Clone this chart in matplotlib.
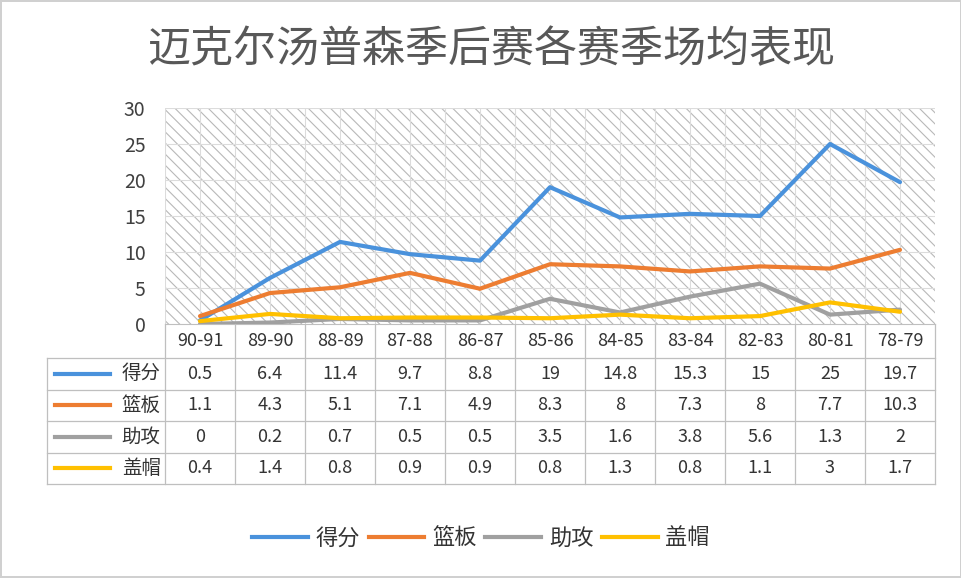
import matplotlib.pyplot as plt
from matplotlib.patches import Rectangle
from matplotlib.lines import Line2D

plt.rcParams['font.family'] = ['Noto Sans CJK SC', 'DejaVu Sans']
plt.rcParams['hatch.linewidth'] = 0.8
plt.rcParams['hatch.color'] = '#b8b8b8'

seasons = ['90-91', '89-90', '88-89', '87-88', '86-87', '85-86',
           '84-85', '83-84', '82-83', '80-81', '78-79']
points = [0.5, 6.4, 11.4, 9.7, 8.8, 19, 14.8, 15.3, 15, 25, 19.7]
rebounds = [1.1, 4.3, 5.1, 7.1, 4.9, 8.3, 8, 7.3, 8, 7.7, 10.3]
assists = [0, 0.2, 0.7, 0.5, 0.5, 3.5, 1.6, 3.8, 5.6, 1.3, 2]
blocks = [0.4, 1.4, 0.8, 0.9, 0.9, 0.8, 1.3, 0.8, 1.1, 3, 1.7]
names = ['得分', '篮板', '助攻', '盖帽']
colors = ['#4a92dc', '#ed7d31', '#a0a0a0', '#ffc000']
series = [points, rebounds, assists, blocks]

W, H = 962, 578
fig = plt.figure(figsize=(W / 100, H / 100), dpi=100)
fig.patch.set_edgecolor('#d0d0d0')
fig.patch.set_linewidth(1.5)

def fx(px):
    return px / W

def fy(py):
    return 1 - py / H

left, right = 165, 935
top, bottom = 108, 324
ax = fig.add_axes([fx(left), fy(bottom), fx(right - left), (bottom - top) / H])

n = len(seasons)
x = list(range(n))
ax.set_xlim(-0.5, n - 0.5)
ax.set_ylim(0, 30)

ax.add_patch(Rectangle((0, 0), 1, 1, transform=ax.transAxes, facecolor='white',
                       edgecolor='#b8b8b8', hatch='\\\\\\', linewidth=0, zorder=0))
for yv in range(5, 31, 5):
    ax.axhline(yv, color='#dcdcdc', lw=0.8, zorder=1)
for i in range(2 * n):
    ax.axvline(i / 2 - 0.5, color='#dcdcdc', lw=0.8, zorder=1)

for vals, c, nm in zip(series, colors, names):
    ax.plot(x, vals, color=c, lw=3, label=nm, zorder=3, solid_capstyle='round')

ax.set_yticks(range(0, 31, 5))
ax.tick_params(axis='y', length=0, labelsize=14, labelcolor='#404040', pad=14)
ax.set_xticks([])
for s in ['top', 'right', 'left']:
    ax.spines[s].set_visible(False)
ax.spines['bottom'].set_color('#bfbfbf')

# data table under the plot
tb = fig.add_axes([fx(left), fy(484), fx(right - left), (484 - bottom) / H])
tb.set_xlim(-0.5, n - 0.5)
tb.set_ylim(160, 0)
tb.axis('off')
gc = '#bfbfbf'
label_w = (left - 47) / 70.0
x0 = -0.5 - label_w
head_h = 34
row_h = (160 - head_h) / 4.0

for i in range(n + 1):
    tb.plot([i - 0.5, i - 0.5], [0, 160], color=gc, lw=0.9, clip_on=False)
tb.plot([x0, x0], [head_h, 160], color=gc, lw=0.9, clip_on=False)
for r in range(5):
    yy = head_h + r * row_h
    tb.plot([x0, n - 0.5], [yy, yy], color=gc, lw=0.9, clip_on=False)

for i, s in enumerate(seasons):
    tb.text(i, head_h / 2, s, ha='center', va='center', fontsize=13, color='#333333')

for r, (vals, c, nm) in enumerate(zip(series, colors, names)):
    yc = head_h + (r + 0.5) * row_h
    tb.plot([x0 + 0.11, x0 + 0.9], [yc, yc], color=c, lw=3, clip_on=False)
    tb.text(-0.56, yc, nm, ha='right', va='center', fontsize=14, color='#333333')
    for i, v in enumerate(vals):
        tb.text(i, yc, f'{v:g}', ha='center', va='center', fontsize=13, color='#333333')

fig.text(0.51, fy(50), '迈克尔汤普森季后赛各赛季场均表现', ha='center', va='center',
         fontsize=31, fontweight='medium', color='#585858')

handles = [Line2D([], [], color=c, lw=3) for c in colors]
fig.legend(handles, names, loc='center', bbox_to_anchor=(0.5, fy(538)), ncol=4,
           frameon=False, fontsize=16, handlelength=2.5, handletextpad=0.35,
           columnspacing=0.4, labelcolor='#333333')

fig.savefig('out.png', dpi=100)
